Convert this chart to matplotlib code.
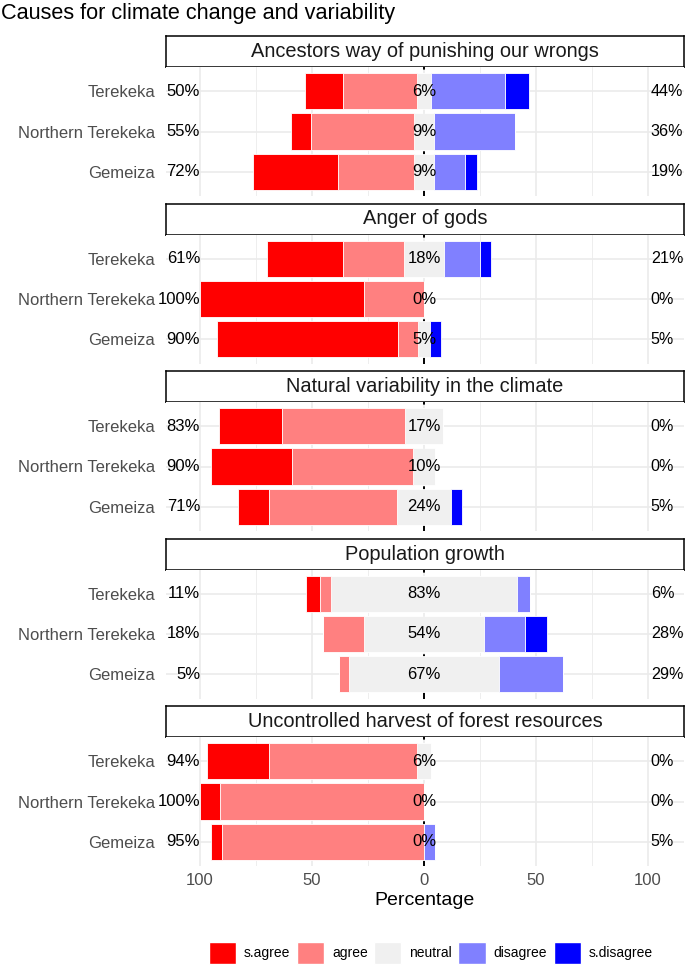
import numpy as np
import matplotlib
matplotlib.use("Agg")
import matplotlib.pyplot as plt
from matplotlib.patches import Patch

plt.rcParams['font.family'] = ['Liberation Sans', 'DejaVu Sans']

# data (percent of respondents)
items = ["Ancestors way of punishing our wrongs", "Anger of gods",
         "Natural variability in the climate", "Population growth",
         "Uncontrolled harvest of forest resources"]
sites = ["Terekeka", "Northern Terekeka", "Gemeiza"]
levels = ["s.agree", "agree", "neutral", "disagree", "s.disagree"]
colors = ["#FF0000", "#FF8080", "#F0F0F0", "#8080FF", "#0000FF"]

# rows = items, columns = sites
s_agree = [[17, 9, 38], [34, 73, 81], [28, 36, 14], [6, 0, 0], [28, 9, 5]]
agree = [[33, 46, 34], [27, 27, 9], [55, 54, 57], [5, 18, 4.8], [66, 91, 90]]
neutral = [[6, 9, 9], [18, 0, 5], [17, 10, 24], [83, 54, 66.7], [6, 0, 0]]
disagree = [[33, 36, 14], [16, 0, 0], [0, 0, 0], [6, 18, 28.6], [0, 0, 5]]
s_disagree = [[11, 0, 5], [5, 0, 5], [0, 0, 5], [0, 10, 0], [0, 0, 0]]

W, H = 685, 967
fig = plt.figure(figsize=(W / 100, H / 100), dpi=100)

def fy(y):
    return 1 - y / H

fig.text(0.002, fy(13), "Causes for climate change and variability",
         fontsize=15.6, ha='left', va='center')

left, width = 166, 518
strip_h, plot_h, step, top0 = 31, 129, 167.5, 36
ypos = np.array([3, 2, 1])

for i, item in enumerate(items):
    top = top0 + i * step
    sax = fig.add_axes([left / W, fy(top + strip_h), width / W, strip_h / H])
    sax.set_xticks([]); sax.set_yticks([])
    for sp in sax.spines.values():
        sp.set_linewidth(1.1)
    sax.text(0.5, 0.5, item, ha='center', va='center', fontsize=14.4,
             transform=sax.transAxes, color='#1A1A1A')

    ax = fig.add_axes([left / W, fy(top + strip_h + plot_h), width / W, plot_h / H])
    sa = np.array(s_agree[i], float)
    ag = np.array(agree[i], float)
    ne = np.array(neutral[i], float)
    di = np.array(disagree[i], float)
    sd = np.array(s_disagree[i], float)

    kw = dict(height=0.9, edgecolor='white', linewidth=0.6, zorder=3)
    ax.barh(ypos, ne, left=-ne / 2, color=colors[2], **kw)
    ax.barh(ypos, ag, left=-ne / 2 - ag, color=colors[1], **kw)
    ax.barh(ypos, sa, left=-ne / 2 - ag - sa, color=colors[0], **kw)
    ax.barh(ypos, di, left=ne / 2, color=colors[3], **kw)
    ax.barh(ypos, sd, left=ne / 2 + di, color=colors[4], **kw)

    ax.axvline(0, color='black', ls=(0, (3.5, 3)), lw=1.4, zorder=2)

    for y, lo, nu, hi in zip(ypos, sa + ag, ne, di + sd):
        ax.text(-100, y, f"{round(lo)}%", ha='right', va='center', fontsize=12, zorder=5)
        ax.text(0, y, f"{round(nu)}%", ha='center', va='center', fontsize=12, zorder=5)
        ax.text(101.3, y, f"{round(hi)}%", ha='left', va='center', fontsize=11.6, zorder=5)

    ax.set_xlim(-115.2, 116.1)
    ax.set_ylim(0.4, 3.6)
    ax.set_xticks([-100, -50, 0, 50, 100])
    ax.set_xticks([-75, -25, 25, 75], minor=True)
    ax.set_yticks(ypos)
    ax.set_yticklabels(sites, fontsize=12, color='#4D4D4D')
    ax.tick_params(which='both', length=0, pad=8)
    ax.grid(which='major', color='#EBEBEB', lw=1.2, zorder=0)
    ax.grid(which='minor', axis='x', color='#EBEBEB', lw=0.6, zorder=0)
    ax.set_axisbelow(True)
    for sp in ax.spines.values():
        sp.set_visible(False)
    if i == len(items) - 1:
        ax.set_xticklabels(["100", "50", "0", "50", "100"], fontsize=12, color='#4D4D4D')
        ax.tick_params(axis='x', pad=5)
        ax.set_xlabel("Percentage", fontsize=14, labelpad=3)
    else:
        ax.set_xticklabels([])

handles = [Patch(facecolor=c, edgecolor='white') for c in colors]
fig.legend(handles, levels, loc='center', bbox_to_anchor=(0.629, fy(953)), ncol=5,
           frameon=False, fontsize=10, handlelength=1.95, handleheight=1.95,
           handletextpad=0.6, columnspacing=0.45)

fig.savefig("out.png", dpi=100)
